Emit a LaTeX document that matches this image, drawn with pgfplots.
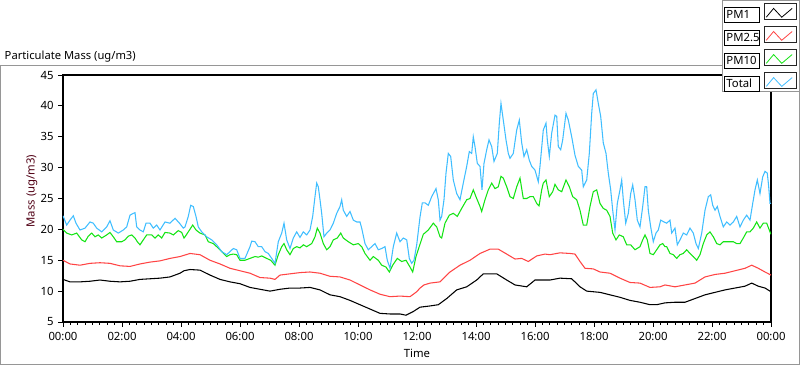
\documentclass[border=0pt]{standalone}
\usepackage{pgfplots}
\pgfplotsset{compat=1.18}
\usepackage{fontspec}
\setmainfont{Noto Sans}
\definecolor{pmone}{RGB}{0,0,0}
\definecolor{pmtwo}{RGB}{255,68,68}
\definecolor{pmten}{RGB}{20,228,20}
\definecolor{pmtot}{RGB}{64,190,255}
\definecolor{framegray}{RGB}{150,150,150}
\definecolor{ylab}{RGB}{80,0,20}
\newcommand\legbox[1]{{\setlength\fboxsep{0.8pt}\setlength\fboxrule{0.6pt}\framebox[27pt][l]{\rule[-2.2pt]{0pt}{9.2pt}\hspace{0.8pt}#1}}}

\pgfplotstableread{
h v
0 11.9
0.237 11.5
0.576 11.5
0.915 11.6
1.254 11.8
1.593 11.6
1.932 11.5
2.271 11.6
2.610 11.9
2.949 12.0
3.288 12.1
3.627 12.3
3.966 12.9
4.102 13.3
4.305 13.5
4.644 13.4
4.983 12.6
5.322 11.9
5.661 11.5
6.0 11.2
6.339 10.6
6.678 10.3
7.017 10.0
7.356 10.3
7.695 10.5
8.034 10.5
8.373 10.6
8.712 10.2
9.051 9.4
9.390 9.1
9.729 8.5
10.068 7.8
10.407 7.1
10.746 6.4
11.085 6.3
11.424 6.3
11.627 6.1
11.875 6.7
12.102 7.4
12.441 7.6
12.722 7.8
13.007 8.8
13.346 10.2
13.685 10.7
14.024 11.8
14.247 12.8
14.702 12.8
15.041 11.8
15.322 11.0
15.719 10.7
16.0 11.8
16.339 11.8
16.508 11.8
16.847 12.1
17.244 12.0
17.525 10.7
17.753 10.0
18.203 9.8
18.542 9.4
18.881 9.0
19.220 8.5
19.559 8.2
19.898 7.8
20.125 7.8
20.407 8.1
20.746 8.2
21.085 8.2
21.424 8.8
21.763 9.4
22.102 9.8
22.441 10.2
22.780 10.5
23.119 10.8
23.346 11.3
23.569 10.8
23.797 10.5
24.0 9.9
}\pmonetab

\pgfplotstableread{
h v
0 15.0
0.237 14.4
0.576 14.2
0.915 14.5
1.254 14.6
1.593 14.5
1.932 14.1
2.271 14.0
2.610 14.4
2.949 14.7
3.288 14.9
3.627 15.3
3.966 15.6
4.305 16.1
4.644 15.9
4.983 15.0
5.322 14.4
5.661 13.7
6.0 13.3
6.339 12.9
6.678 12.2
7.017 12.1
7.186 11.9
7.356 12.6
7.695 12.8
8.034 13.0
8.373 13.1
8.712 12.9
9.051 12.4
9.390 12.3
9.729 11.8
10.068 11.0
10.407 10.2
10.746 9.5
11.085 9.1
11.424 9.2
11.763 9.1
11.990 9.9
12.102 10.5
12.237 11.0
12.441 11.3
12.780 11.5
13.119 13.1
13.458 14.2
13.797 15.0
14.136 16.1
14.475 16.8
14.756 16.8
15.041 16.0
15.322 15.2
15.549 15.3
15.773 14.8
16.058 15.7
16.339 16.0
16.508 15.9
16.847 16.2
17.186 16.1
17.356 16.0
17.525 14.8
17.695 13.7
17.976 13.6
18.203 13.1
18.542 12.9
18.881 12.1
19.220 11.4
19.559 11.3
19.898 10.6
20.237 10.7
20.407 11.0
20.746 10.7
21.085 11.0
21.424 11.3
21.763 12.3
22.102 12.7
22.441 12.9
22.780 13.3
23.119 13.7
23.346 14.2
23.569 13.7
23.797 13.1
24.0 12.6
}\pmtwotab

\pgfplotstableread{
h v
0 20.0
0.125 19.4
0.295 19.1
0.464 19.4
0.634 18.3
0.746 18.0
0.858 18.9
0.973 19.4
1.085 18.8
1.197 19.1
1.312 18.6
1.481 19.1
1.593 19.5
1.705 18.8
1.820 18.0
1.990 18.0
2.102 18.3
2.214 18.9
2.329 19.1
2.441 18.6
2.519 18.0
2.610 17.5
2.722 18.3
2.837 19.1
3.007 19.1
3.119 18.6
3.231 19.1
3.346 18.6
3.458 19.5
3.627 19.4
3.739 19.1
3.908 19.8
4.024 19.5
4.102 18.6
4.136 18.8
4.247 19.6
4.397 20.7
4.508 19.9
4.644 19.4
4.814 19.1
4.925 18.0
5.095 17.7
5.210 17.2
5.380 16.4
5.549 15.6
5.661 15.9
5.773 16.0
5.888 15.9
6.0 15.0
6.169 15.0
6.339 15.3
6.508 15.6
6.620 15.5
6.736 15.7
6.905 15.3
7.041 15.0
7.186 14.2
7.298 15.9
7.414 17.2
7.492 17.7
7.583 16.7
7.695 15.9
7.807 16.9
7.922 17.2
8.034 17.0
8.146 17.5
8.261 17.2
8.431 17.7
8.542 18.8
8.620 20.2
8.712 19.4
8.824 17.7
8.939 16.7
9.051 17.2
9.163 18.3
9.298 18.6
9.414 19.4
9.502 18.6
9.671 18.0
9.841 17.5
10.010 17.7
10.125 17.2
10.237 16.1
10.407 15.0
10.519 15.6
10.688 15.0
10.803 14.2
10.949 13.9
11.061 13.1
11.176 14.2
11.332 15.3
11.481 14.8
11.627 15.0
11.763 13.9
11.854 13.1
11.966 15.6
12.102 17.6
12.214 19.2
12.383 19.9
12.553 21.0
12.668 20.4
12.780 18.8
12.837 18.6
12.949 21.0
13.095 22.3
13.231 22.6
13.366 22.1
13.515 23.4
13.685 24.8
13.797 25.0
13.908 26.4
14.024 25.0
14.136 23.7
14.193 22.9
14.305 24.8
14.417 26.4
14.532 27.5
14.644 26.6
14.756 26.9
14.847 28.6
14.925 28.3
15.041 26.9
15.153 25.3
15.264 25.0
15.380 26.9
15.492 28.3
15.603 25.0
15.719 25.0
15.831 25.3
15.943 25.3
16.058 24.2
16.136 23.8
16.227 26.4
16.281 27.5
16.373 28.0
16.485 25.3
16.600 26.1
16.678 27.3
16.790 26.4
16.905 26.1
17.051 28.0
17.163 26.9
17.278 25.3
17.414 24.8
17.525 23.1
17.637 20.7
17.753 20.7
17.864 23.7
17.976 26.1
18.092 26.4
18.203 24.2
18.315 23.4
18.431 23.1
18.542 22.1
18.634 19.4
18.746 18.3
18.858 19.1
18.993 18.8
19.108 17.5
19.244 17.5
19.390 16.7
19.559 17.2
19.651 18.3
19.729 19.1
19.807 18.3
19.898 16.1
20.010 15.9
20.125 16.7
20.237 17.5
20.329 17.7
20.407 17.2
20.464 17.2
20.576 16.1
20.688 15.9
20.803 15.3
20.915 15.9
21.027 16.1
21.142 16.7
21.254 16.1
21.366 15.6
21.481 15.0
21.593 15.9
21.705 17.7
21.820 19.1
21.932 19.6
22.044 18.8
22.159 17.7
22.271 17.5
22.383 18.0
22.498 18.0
22.610 18.0
22.722 18.0
22.837 17.7
22.949 17.7
23.061 18.6
23.176 19.6
23.288 19.6
23.400 20.2
23.515 21.2
23.627 20.2
23.739 21.0
23.854 21.0
23.966 19.6
24.0 19.2
}\pmtentab

\pgfplotstableread{
h v
0 22.2
0.125 20.7
0.237 21.5
0.349 22.2
0.441 21.0
0.576 19.9
0.746 20.2
0.915 21.2
1.027 21.0
1.142 20.2
1.312 19.6
1.481 20.4
1.593 21.4
1.705 19.9
1.875 19.4
2.044 19.9
2.159 20.4
2.271 22.3
2.383 22.6
2.441 22.7
2.498 20.4
2.610 19.9
2.722 19.6
2.814 21.0
2.949 21.0
3.061 20.2
3.176 20.7
3.288 19.9
3.458 21.2
3.627 21.0
3.797 21.8
3.966 20.9
4.078 20.2
4.136 20.4
4.247 22.1
4.329 23.9
4.417 23.7
4.508 22.1
4.586 20.4
4.702 19.6
4.871 18.8
5.041 18.3
5.210 17.5
5.380 16.4
5.549 15.9
5.661 16.4
5.773 16.9
5.888 16.7
6.0 15.3
6.169 15.3
6.339 17.2
6.397 18.1
6.508 18.0
6.620 17.2
6.736 17.2
6.847 16.4
6.959 16.1
7.075 15.3
7.186 14.5
7.298 18.0
7.414 19.4
7.492 21.0
7.583 18.3
7.695 16.9
7.807 18.6
7.922 19.6
8.034 18.7
8.146 19.6
8.261 19.1
8.373 19.9
8.464 22.1
8.542 25.3
8.600 27.5
8.654 26.9
8.712 24.8
8.769 22.6
8.847 18.8
8.939 19.4
9.051 19.9
9.163 21.0
9.278 22.6
9.390 23.7
9.447 24.8
9.502 23.1
9.617 22.1
9.729 22.9
9.841 21.5
9.956 21.2
10.068 21.2
10.125 20.2
10.237 17.7
10.349 16.7
10.464 17.2
10.576 17.7
10.688 16.7
10.803 16.9
10.915 17.2
10.993 15.0
11.085 13.7
11.197 17.2
11.312 19.4
11.424 18.0
11.536 18.6
11.651 18.3
11.739 15.3
11.820 14.5
11.898 15.0
11.990 17.5
12.102 22.0
12.180 24.3
12.271 24.3
12.383 23.9
12.498 25.3
12.644 26.6
12.722 24.8
12.780 21.5
12.837 22.1
12.915 24.8
12.983 29.1
13.061 32.3
13.142 31.8
13.231 28.0
13.346 25.8
13.458 24.8
13.569 27.5
13.685 30.2
13.773 32.6
13.854 32.3
13.908 35.0
13.966 33.4
14.044 30.7
14.136 30.2
14.203 26.4
14.271 30.7
14.363 32.9
14.441 34.5
14.532 33.4
14.610 31.0
14.722 32.3
14.790 37.2
14.847 40.4
14.925 37.7
15.017 34.5
15.095 32.3
15.153 31.5
15.264 32.3
15.380 36.1
15.468 37.7
15.549 34.0
15.627 31.8
15.719 32.9
15.807 31.2
15.888 30.2
16.0 29.6
16.112 27.7
16.169 30.2
16.281 36.1
16.373 37.2
16.417 34.5
16.485 31.8
16.566 35.6
16.678 38.5
16.736 38.3
16.790 33.4
16.871 32.9
16.939 34.5
17.051 38.8
17.129 37.7
17.244 35.0
17.356 32.0
17.468 30.2
17.583 29.6
17.637 26.9
17.753 28.0
17.841 32.3
17.922 38.8
17.976 42.0
18.068 42.6
18.146 40.4
18.227 38.3
18.315 34.0
18.407 32.3
18.485 29.1
18.566 26.4
18.634 23.1
18.712 19.9
18.790 24.2
18.881 26.4
18.939 28.0
18.993 24.8
19.075 21.0
19.163 22.6
19.244 25.8
19.312 27.2
19.390 24.8
19.468 21.5
19.559 20.4
19.651 23.7
19.729 26.9
19.786 26.9
19.841 23.1
19.922 20.4
20.010 18.0
20.102 19.4
20.180 19.9
20.261 21.5
20.373 21.2
20.464 21.0
20.576 21.5
20.634 19.4
20.746 20.2
20.824 17.5
20.915 18.3
21.027 19.4
21.142 19.1
21.254 20.2
21.366 19.4
21.458 17.7
21.536 16.9
21.651 19.4
21.763 23.1
21.875 25.3
21.956 25.6
22.024 23.9
22.102 23.1
22.180 23.7
22.271 22.1
22.383 20.4
22.498 21.2
22.610 20.7
22.722 21.2
22.837 22.1
22.949 20.4
23.061 21.5
23.176 22.3
23.288 21.5
23.380 24.2
23.458 26.4
23.536 28.0
23.627 25.8
23.719 28.5
23.797 29.4
23.875 29.1
23.922 26.9
23.966 24.2
24.0 24.2
}\pmtottab

\begin{document}
\begin{tikzpicture}
\useasboundingbox (-47.25pt,-32.25pt) rectangle (552.75pt,241.5pt);
\draw[framegray, line width=0.75pt] (-46.5pt,-31.5pt) rectangle (552pt,192.75pt);
\begin{axis}[
  at={(0pt,0pt)}, anchor=south west,
  scale only axis,
  width=531pt, height=185.25pt,
  xmin=0, xmax=24, ymin=5, ymax=45,
  xtick={0,2,...,24},
  xticklabels={00:00,02:00,04:00,06:00,08:00,10:00,12:00,14:00,16:00,18:00,20:00,22:00,00:00},
  ytick={5,10,...,45},
  minor x tick num=7,
  xtick pos=bottom, ytick pos=left,
  tick align=outside,
  major tick length=3.5pt,
  minor tick length=2.2pt,
  every tick/.style={black, line width=0.6pt},
  axis line style={black, line width=0.8pt},
  tick label style={font=\fontsize{8.5}{10}\selectfont},
  /pgf/number format/assume math mode=true,
  xticklabel style={yshift=-0.5pt},
  xlabel={Time},
  xlabel style={font=\fontsize{8.5}{10}\selectfont, at={(axis description cs:0.5,-0.1255)}, anchor=center},
  ylabel={Mass (ug/m3)},
  ylabel style={font=\fontsize{8.5}{10}\selectfont, color=ylab, at={(axis description cs:-0.0438,0.53)}, anchor=center},
  every axis title shift=0pt,
  title={Particulate Mass (ug/m3)},
  title style={font=\fontsize{8.4}{10}\selectfont, at={(axis description cs:-0.0833,1.073)}, anchor=west, xshift=-3pt},
  legend style={at={(axis description cs:0.9308,1.3036)}, anchor=north west,
    draw=framegray, fill=white, inner xsep=1.5pt, inner ysep=2pt,
    row sep=4.7pt, column sep=3pt, font=\fontsize{8.5}{10}\selectfont,
    nodes={inner sep=0pt, text depth=0pt}},
  legend plot pos=right,
  legend cell align=left,
  legend image code/.code={
    \draw[black!85, line width=0.6pt, fill=white, solid] (0pt,-5.2pt) rectangle (24pt,6.8pt);
    \draw[#1, line width=0.6pt] (1.2pt,-3.6pt) -- (6.7pt,3pt) -- (12.8pt,-3.6pt) -- (20.6pt,3pt);
  },
]
\addplot[pmone, line width=0.8pt] table[x=h,y=v] {\pmonetab};
\addlegendentry{\legbox{PM1}}
\addplot[pmtwo, line width=0.8pt] table[x=h,y=v] {\pmtwotab};
\addlegendentry{\legbox{PM2.5}}
\addplot[pmten, line width=0.8pt] table[x=h,y=v] {\pmtentab};
\addlegendentry{\legbox{PM10}}
\addplot[pmtot, line width=0.8pt] table[x=h,y=v] {\pmtottab};
\addlegendentry{\legbox{Total}}
\end{axis}
\end{tikzpicture}
\end{document}
